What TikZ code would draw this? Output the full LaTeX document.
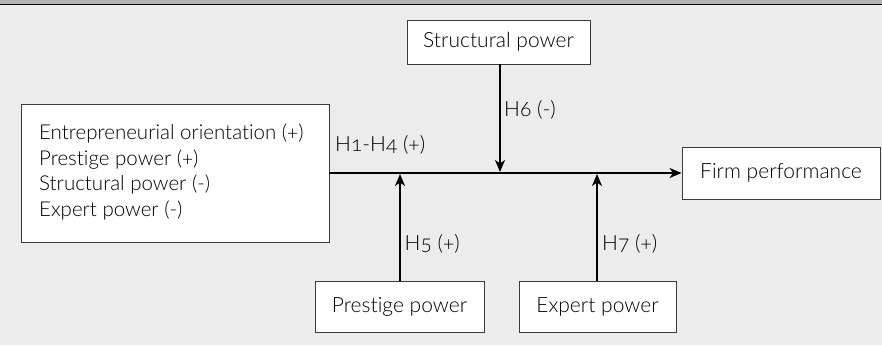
\documentclass[tikz,border=0pt]{standalone}
\usepackage{fontspec}
\setmainfont{Lato}[UprightFont={* Light},Numbers=OldStyle,Ligatures=NoCommon]
\usetikzlibrary{arrows.meta}
\definecolor{bg}{HTML}{ECECEC}
\definecolor{topbar}{HTML}{B4B4B4}
\definecolor{boxline}{HTML}{3A3A3A}
\tikzset{
  box/.style={draw=boxline,line width=0.9pt,fill=white,inner sep=0pt,font=\fontsize{21}{25.5}\selectfont},
  conn/.style={line width=1.8pt,-{Stealth[length=12pt,width=10pt,inset=3.5pt]}},
  lbl/.style={inner sep=0pt,anchor=west,font=\fontsize{21}{25}\selectfont}
}
\begin{document}
\begin{tikzpicture}[x=1pt,y=-1pt]
\useasboundingbox (0,0) rectangle (882,345);
\fill[bg] (0,0) rectangle (882,345);
\fill[topbar] (0,0) rectangle (882,4);
\draw[line width=1.4pt,black] (0,4.6) -- (882,4.6);

\node[box,minimum width=308pt,minimum height=138pt] (ante) at (175,173) {};
\node[inner sep=0pt,anchor=west,align=left,font=\fontsize{20.5}{25.5}\selectfont] (antetext) at (39,172)
  {Entrepreneurial orientation (+)\\Prestige power (+)\\Structural power (-)\\Expert power (-)};
\node[box,minimum width=183pt,minimum height=44pt] (struct) at (498.5,42) {Structural power};
\node[box,minimum width=198pt,minimum height=52pt] (firm) at (781,173) {Firm performance};
\node[box,minimum width=169pt,minimum height=51pt] (prest) at (399.5,306.5) {Prestige power};
\node[box,minimum width=157pt,minimum height=51pt] (expert) at (597.5,306.5) {Expert power};

\coordinate (h6end) at (500,172);
\coordinate (h5end) at (400,174);
\coordinate (h7end) at (597,174);

\draw[conn] (ante.east) -- (firm.west);
\draw[conn] (struct.south -| h6end) -- (h6end);
\draw[conn] (prest.north -| h5end) -- (h5end);
\draw[conn] (expert.north -| h7end) -- (h7end);

\node[lbl] (l14) at (335,145) {H1-H4 (+)};
\node[lbl] (l6) at (504,110) {H6 (-)};
\node[lbl] (l5) at (404.5,244) {H5 (+)};
\node[lbl] (l7) at (602,244) {H7 (+)};
\end{tikzpicture}
\end{document}
